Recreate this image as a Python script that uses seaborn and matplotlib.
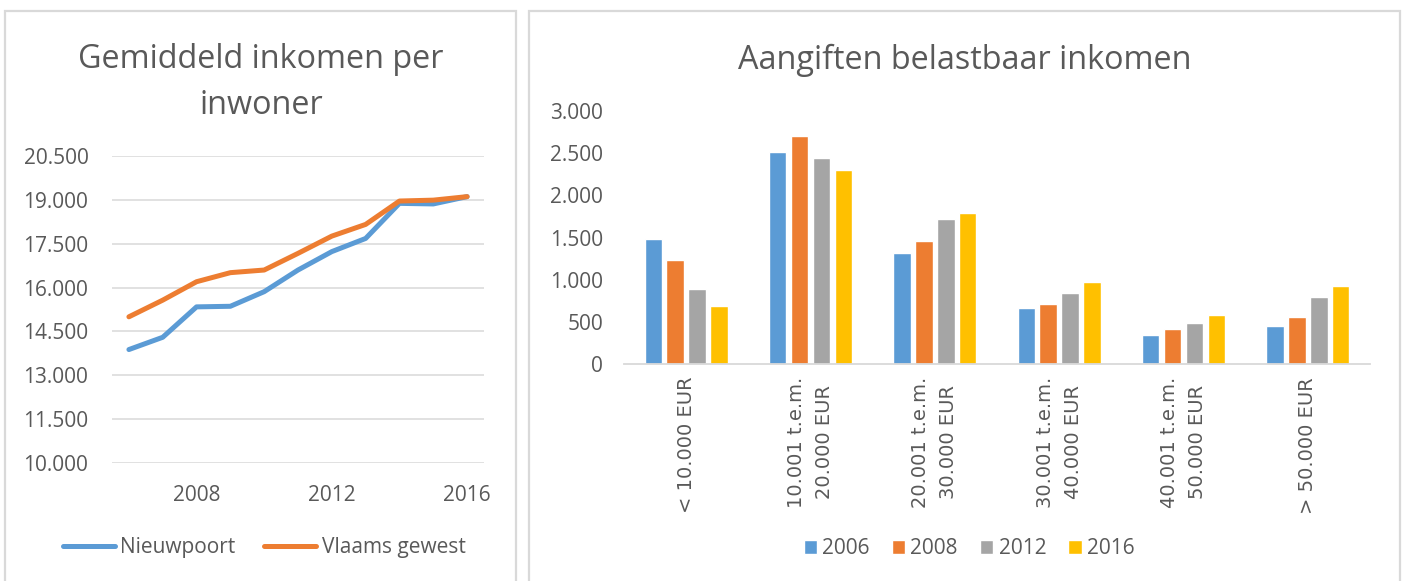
import matplotlib
matplotlib.use("Agg")
import matplotlib.pyplot as plt
from matplotlib.patches import Rectangle
from matplotlib.ticker import FuncFormatter
import seaborn as sns
import pandas as pd

# ---------------- data ----------------
jaren = [2006, 2007, 2008, 2009, 2010, 2011, 2012, 2013, 2014, 2015, 2016]
nieuwpoort = [13880, 14300, 15340, 15360, 15860, 16600, 17230, 17680, 18880, 18860, 19110]
vlaams_gewest = [15000, 15570, 16200, 16510, 16600, 17170, 17760, 18160, 18960, 18990, 19110]
line_series = ["Nieuwpoort", "Vlaams gewest"]
line_yticks = [10000, 11500, 13000, 14500, 16000, 17500, 19000, 20500]
line_xticks = [2008, 2012, 2016]

klassen = ["< 10.000 EUR", "10.001 t.e.m.\n20.000 EUR", "20.001 t.e.m.\n30.000 EUR",
           "30.001 t.e.m.\n40.000 EUR", "40.001 t.e.m.\n50.000 EUR", "> 50.000 EUR"]
bar_jaren = ["2006", "2008", "2012", "2016"]
aangiften_2006 = [1480, 2520, 1320, 665, 348, 450]
aangiften_2008 = [1240, 2700, 1465, 712, 418, 557]
aangiften_2012 = [888, 2447, 1725, 842, 494, 793]
aangiften_2016 = [696, 2297, 1788, 972, 585, 925]
bar_yticks = [0, 500, 1000, 1500, 2000, 2500, 3000]

# ---------------- styling ----------------
BLUE, ORANGE, GRAY, GOLD = "#5B9BD5", "#ED7D31", "#A5A5A5", "#FFC000"
TXT = "#595959"
GRID = "#D9D9D9"

sns.set_theme(style="white")
plt.rcParams["font.family"] = ["Open Sans", "DejaVu Sans"]
plt.rcParams["text.color"] = TXT

W, H = 1405, 581
fig = plt.figure(figsize=(W / 100, H / 100), dpi=100)

def fx(px):
    return px / W

def fy(py):
    return 1 - py / H

# panel borders
for x0, x1 in [(5, 516), (529, 1400)]:
    fig.add_artist(Rectangle((fx(x0), fy(H + 5)), fx(x1) - fx(x0), fy(11) - fy(H + 5),
                             transform=fig.transFigure, fill=False,
                             edgecolor=GRID, linewidth=1.6))

thousands = FuncFormatter(lambda v, p: f"{int(round(v)):,}".replace(",", "."))

# ---------------- left: line chart ----------------
df_line = pd.DataFrame({
    "jaar": jaren * 2,
    "inkomen": nieuwpoort + vlaams_gewest,
    "reeks": [line_series[0]] * len(jaren) + [line_series[1]] * len(jaren),
})
ax1 = fig.add_axes([fx(112), fy(463), fx(484) - fx(112), fy(156) - fy(463)])
sns.lineplot(data=df_line, x="jaar", y="inkomen", hue="reeks", hue_order=line_series,
             palette=[BLUE, ORANGE], linewidth=3.6, ax=ax1, sort=False)
for ln in ax1.get_lines():
    ln.set_solid_capstyle("round")
    ln.set_solid_joinstyle("round")
ax1.set_xlim(2005.5, 2016.5)
ax1.set_ylim(line_yticks[0], line_yticks[-1])
ax1.set_yticks(line_yticks)
ax1.set_xticks(line_xticks)
ax1.yaxis.set_major_formatter(thousands)
ax1.grid(axis="y", color=GRID, linewidth=1.1)
ax1.set_axisbelow(True)
for s in ax1.spines.values():
    s.set_visible(False)
ax1.tick_params(axis="y", length=0, pad=17, labelsize=15, labelcolor=TXT)
ax1.tick_params(axis="x", length=0, pad=16, labelsize=15, labelcolor=TXT)
ax1.set_xlabel("")
ax1.set_ylabel("")
sns.move_legend(ax1, loc="center", bbox_to_anchor=(fx(264), fy(548)),
                bbox_transform=fig.transFigure, ncol=2, frameon=False, title=None,
                fontsize=15, handlelength=2.5, handletextpad=0.25, columnspacing=1.4)
for t in ax1.get_legend().get_texts():
    t.set_color(TXT)
for h in ax1.get_legend().legend_handles:
    h.set_linewidth(3.6)
    h.set_solid_capstyle("round")

fig.text(fx(261), fy(68), "Gemiddeld inkomen per", ha="center", va="baseline",
         fontsize=23.3, color=TXT)
fig.text(fx(261), fy(114), "inwoner", ha="center", va="baseline",
         fontsize=23.3, color=TXT)

# ---------------- right: bar chart ----------------
rows = []
for jr, vals in zip(bar_jaren, [aangiften_2006, aangiften_2008, aangiften_2012, aangiften_2016]):
    for k, v in zip(klassen, vals):
        rows.append({"klasse": k, "aantal": v, "jaar": jr})
df_bar = pd.DataFrame(rows)

ax2 = fig.add_axes([fx(624), fy(364.3), fx(1370) - fx(624), fy(111) - fy(364.3)])
sns.barplot(data=df_bar, x="klasse", y="aantal", hue="jaar", order=klassen,
            hue_order=bar_jaren, palette=[BLUE, ORANGE, GRAY, GOLD],
            width=0.705, gap=0.2, saturation=1, ax=ax2)
ax2.set_ylim(0, 3000)
ax2.set_yticks(bar_yticks)
ax2.yaxis.set_major_formatter(thousands)
for name, s in ax2.spines.items():
    s.set_visible(name == "bottom")
ax2.spines["bottom"].set_color(GRID)
ax2.spines["bottom"].set_linewidth(1.3)
ax2.tick_params(axis="y", length=0, pad=15, labelsize=15, labelcolor=TXT)
ax2.tick_params(axis="x", length=0, pad=9, labelsize=14, labelcolor=TXT)
for lab in ax2.get_xticklabels():
    lab.set_rotation(90)
    lab.set_linespacing(1.6)
    lab.set_fontfamily(["DejaVu Sans"])
ax2.set_xlabel("")
ax2.set_ylabel("")
sns.move_legend(ax2, loc="center", bbox_to_anchor=(fx(969), fy(549)),
                bbox_transform=fig.transFigure, ncol=4, frameon=False, title=None,
                fontsize=15, handlelength=0.65, handleheight=0.65,
                handletextpad=0.25, columnspacing=1.05)
for t in ax2.get_legend().get_texts():
    t.set_color(TXT)

fig.text(fx(965), fy(69), "Aangiften belastbaar inkomen", ha="center", va="baseline",
         fontsize=23.3, color=TXT)

fig.savefig("out.png", dpi=100, facecolor="white")
